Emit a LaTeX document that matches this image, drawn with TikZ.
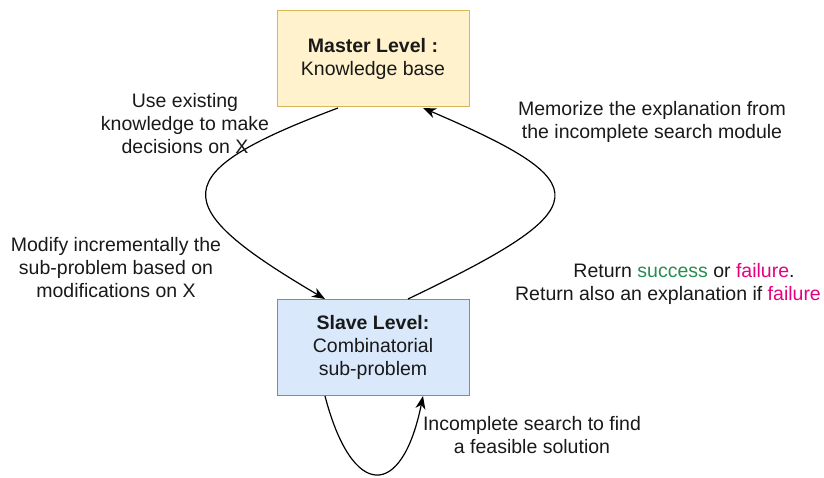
\documentclass[tikz,border=0pt]{standalone}
\usepackage{fontspec}
\setmainfont{Liberation Sans}
\usetikzlibrary{arrows.meta}
\definecolor{masterfill}{HTML}{FFF2CC}
\definecolor{masterdraw}{HTML}{D6B656}
\definecolor{slavefill}{HTML}{DAE8FC}
\definecolor{slavedraw}{HTML}{6C8EBF}
\definecolor{okgreen}{RGB}{40,140,80}
\definecolor{badpink}{RGB}{230,0,126}
\definecolor{txt}{RGB}{25,25,25}
\begin{document}
\begin{tikzpicture}[x=1pt,y=-1pt,
  lbl/.style={align=center,inner sep=0pt,text=txt,font=\fontsize{19.5}{23}\selectfont},
  levelbox/.style={draw,line width=1pt,minimum width=192pt,minimum height=96pt,inner sep=0pt,align=center,text=txt,font=\fontsize{19.5}{23}\selectfont},
  flow/.style={line width=1.2pt,-{Stealth[length=13pt,width=10pt,inset=4pt]}}]
\useasboundingbox (0,0) rectangle (824,478);
\node[levelbox,fill=masterfill,draw=masterdraw] (master) at (373,59) {\textbf{Master Level :}\\Knowledge base};
\node[levelbox,fill=slavefill,draw=slavedraw] (slave) at (373,347.5) {\textbf{Slave Level:}\\Combinatorial\\sub-problem};
\coordinate (m1) at (338,108);
\coordinate (m2) at (423,108);
\coordinate (s1) at (325,299);
\coordinate (s2) at (408,299);
\coordinate (b1) at (325,396);
\coordinate (b2) at (423,396);
\draw[flow] (m1) .. controls (165,173) and (165,205) .. (s1);
\draw[flow] (s2) .. controls (600,207) and (600,184) .. (m2);
\draw[flow] (b1) .. controls (352,500) and (402,500) .. (b2);
\node[lbl] (use) at (185,124) {Use existing\\knowledge to make\\decisions on X};
\node[lbl] (modify) at (116,268) {Modify incrementally the\\sub-problem based on\\modifications on X};
\node[lbl] (memo) at (652,121.5) {Memorize the explanation from\\the incomplete search module};
\node[lbl] (ret) at (668,283.5) {\hspace*{32pt}Return \textcolor{okgreen}{success} or \textcolor{badpink}{failure}.\\Return also an explanation if \textcolor{badpink}{failure}};
\node[lbl] (inc) at (532,435.5) {Incomplete search to find\\a feasible solution};
\end{tikzpicture}
\end{document}
